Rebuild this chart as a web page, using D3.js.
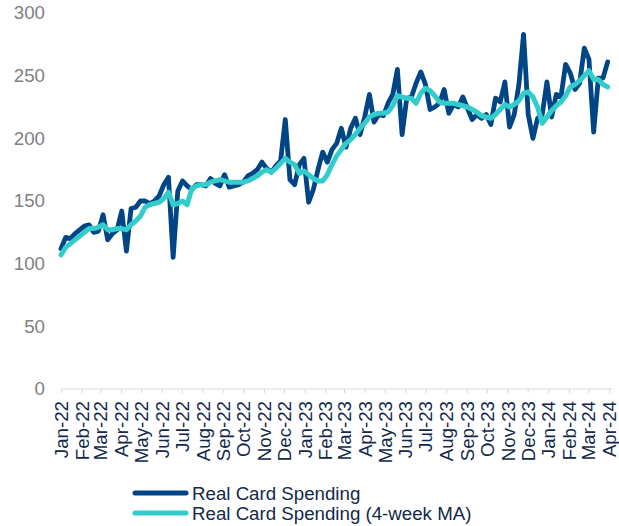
<!DOCTYPE html>
<html>
<head>
<meta charset="utf-8">
<script src="https://cdn.jsdelivr.net/npm/d3@7"></script>
<style>
  body { margin: 0; background: #fff; }
  svg { display: block; font-family: "Liberation Sans", Arial, sans-serif; }
</style>
</head>
<body>
<div id="chart"></div>
<script>
var svgWidth = 619;
var svgHeight = 526;

// weekly series, first week starting 1 Jan 2022
var startDate = new Date(2022, 0, 1);

var spending = [
  112, 121, 120, 124, 127, 130, 131, 125, 126, 139,
  119, 124, 127, 142, 110, 144, 145, 150, 150, 148,
  150, 154, 163, 169, 105, 158, 166, 162, 159, 163,
  163, 162, 168, 164, 162, 171, 161, 162, 163, 165,
  170, 172, 175, 181, 176, 173, 178, 182, 215, 167,
  163, 179, 184, 149, 159, 175, 189, 181, 191, 196,
  208, 193, 208, 216, 203, 217, 235, 213, 219, 218,
  228, 235, 255, 203, 232, 233, 244, 253, 243, 223,
  225, 228, 239, 220, 227, 225, 233, 224, 215, 219,
  216, 219, 211, 232, 229, 245, 209, 219, 243, 283,
  219, 200, 216, 219, 245, 217, 235, 233, 259, 252,
  239, 244, 272, 263, 205, 248, 248, 261
];

var spendingMA = [
  107, 113, 116, 119, 122, 125, 128, 128, 129, 131,
  127, 127, 128, 128, 127, 131, 134, 138, 145, 147,
  148, 149, 152, 157, 147, 148, 150, 147, 160, 162,
  163, 163, 165, 166, 167, 166, 165, 165, 165, 165,
  166, 168, 170, 173, 175, 173, 176, 180, 184, 181,
  179, 172, 174, 171, 168, 166, 166, 171, 179, 186,
  191, 196, 199, 203, 208, 212, 217, 219, 220, 220,
  221, 226, 234, 233, 232, 232, 228, 236, 240, 238,
  234, 229, 228, 228, 228, 227, 226, 225, 223, 221,
  218, 217, 216, 219, 223, 227, 225, 227, 230, 236,
  237, 233, 225, 212, 217, 222, 226, 229, 234, 241,
  243, 246, 250, 254, 247, 247, 243, 241
];

var yTicks = [0, 50, 100, 150, 200, 250, 300];

var seriesNames = ["Real Card Spending", "Real Card Spending (4-week MA)"];
var seriesColors = ["#004586", "#33cccc"];

var margin = { top: 13, right: 10, bottom: 137, left: 61 };
var width = svgWidth - margin.left - margin.right;
var height = svgHeight - margin.top - margin.bottom;

var weeks = spending.map(function(d, i) {
  return d3.timeDay.offset(startDate, i * 7);
});

var svg = d3.select("#chart")
  .append("svg")
  .attr("width", svgWidth)
  .attr("height", svgHeight);

var chartGroup = svg.append("g")
  .attr("transform", `translate(${margin.left}, ${margin.top})`);

var xScale = d3.scaleTime()
  .domain([new Date(2022, 0, 1), new Date(2024, 3, 1)])
  .range([0, 548]);

var yScale = d3.scaleLinear()
  .domain([0, 300])
  .range([height, 0]);

// y labels only, no axis line
var yAxis = chartGroup.append("g")
  .call(d3.axisLeft(yScale).tickValues(yTicks).tickSize(0).tickPadding(16));
yAxis.select(".domain").remove();
yAxis.selectAll("text")
  .attr("fill", "#808080")
  .style("font-size", "18.7px");

// x axis, monthly ticks
var xAxis = chartGroup.append("g")
  .attr("transform", `translate(0, ${height})`)
  .call(d3.axisBottom(xScale)
    .ticks(d3.timeMonth.every(1))
    .tickFormat(d3.timeFormat("%b-%y"))
    .tickSize(4)
    .tickSizeOuter(0));
xAxis.select(".domain")
  .attr("stroke", "#d9d9d9")
  .attr("d", "M0,0H551");
xAxis.selectAll(".tick line").attr("stroke", "#d9d9d9");
xAxis.selectAll("text")
  .attr("fill", "#13294b")
  .style("font-size", "18.7px")
  .attr("text-anchor", "end")
  .attr("transform", "rotate(-90)")
  .attr("x", -12)
  .attr("y", 0)
  .attr("dy", "0.35em");

var line = d3.line()
  .x(function(d, i) { return xScale(weeks[i]); })
  .y(function(d) { return yScale(d); });

chartGroup.append("path")
  .datum(spending)
  .attr("fill", "none")
  .attr("stroke", seriesColors[0])
  .attr("stroke-width", 4.8)
  .attr("stroke-linejoin", "round")
  .attr("stroke-linecap", "round")
  .attr("d", line);

chartGroup.append("path")
  .datum(spendingMA)
  .attr("fill", "none")
  .attr("stroke", seriesColors[1])
  .attr("stroke-width", 5)
  .attr("stroke-linejoin", "round")
  .attr("stroke-linecap", "round")
  .attr("d", line);

// legend
var legend = svg.append("g")
  .attr("transform", "translate(133, 493)");

var legendItems = legend.selectAll("g")
  .data(seriesNames)
  .enter()
  .append("g")
  .attr("transform", function(d, i) { return `translate(0, ${i * 20})`; });

legendItems.append("line")
  .attr("x1", 2).attr("x2", 53)
  .attr("y1", 0).attr("y2", 0)
  .attr("stroke", function(d, i) { return seriesColors[i]; })
  .attr("stroke-width", 5)
  .attr("stroke-linecap", "round");

legendItems.append("text")
  .attr("x", 59)
  .attr("dy", "0.35em")
  .attr("fill", "#13294b")
  .style("font-size", "18.7px")
  .text(function(d) { return d; });
</script>
</body>
</html>
